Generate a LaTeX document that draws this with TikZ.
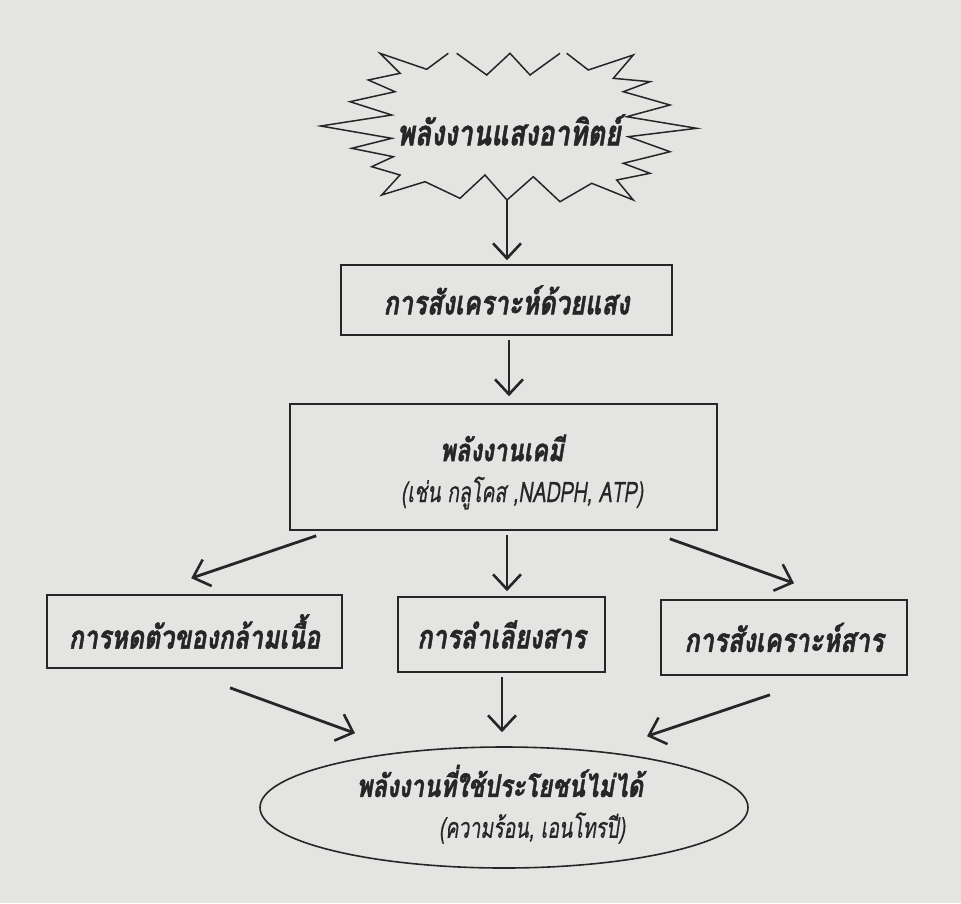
\documentclass[tikz,border=0pt]{standalone}
\usepackage{fontspec}
\usepackage{graphicx}
\newfontfamily\thai[Script=Thai,FakeBold=0.7]{Loma}
\newfontfamily\thaiB[Script=Thai,FakeBold=1.6]{Loma}
\usetikzlibrary{arrows.meta,calc,shapes.geometric}
\definecolor{paper}{HTML}{E4E4E2}
\definecolor{ink}{HTML}{262626}
\newcommand{\bt}[1]{\thaiB\bfseries\itshape\fontsize{#1}{#1}\selectfont}
\newcommand{\rt}[1]{\thai\itshape\fontsize{#1}{#1}\selectfont}
\newcommand{\tall}[1]{\scalebox{1}[1.3]{#1}}
\newcommand{\taller}[1]{\scalebox{1}[1.45]{#1}}
\begin{document}
\begin{tikzpicture}[x=1pt,y=-1pt,
  boxnode/.style={draw=ink,line width=1.6pt,rectangle,inner sep=0pt,align=center,text=ink},
  lbl/.style={text=ink,inner sep=0pt},
  arr/.style={draw=ink,line width=2.8pt,-{Straight Barb[length=15pt,width=28pt,line width=2.6pt]}},
  burst/.style={draw=ink,line width=1.5pt,line join=miter}
]
\useasboundingbox (0,0) rectangle (961,903);
\fill[paper] (0,0) rectangle (961,903);
% starburst
\draw[burst] (456.7,53.3) -- (486.7,75) -- (510,53.3) -- (530,75) -- (560,53.3);
\draw[burst] (566.7,53.3) -- (588.3,70) -- (633.3,55) -- (613.3,78.3) -- (650,81.7)
  -- (623.3,91.7) -- (670,105) -- (626.7,116.7) -- (696.7,128.3) -- (628.3,136.7)
  -- (670,151.7) -- (623.3,163.3) -- (650,173.3) -- (616.7,180) -- (633.3,200)
  -- (591.7,183.3) -- (560,201.7) -- (533.3,176.7) -- (507,200) -- (485,175)
  -- (460,198.3) -- (425,181.7) -- (381.7,195) -- (400,175) -- (371.7,166.7)
  -- (393.3,156.7) -- (351.7,148.3) -- (391.7,138.3) -- (320.7,126) -- (391.7,115)
  -- (350,101.7) -- (395,91.7) -- (368.3,80) -- (400,73.3) -- (380,53.3)
  -- (426.7,69.3) -- (448.3,53.3);
\coordinate (sunb) at (507,200);
\node[lbl,font=\bt{27}] (sun) at (509,130) {\tall{พลังงานแสงอาทิตย์}};
% boxes
\node[boxnode,minimum width=331pt,minimum height=70pt,font=\bt{25.5}] (b1) at (506.5,300) {\tall{การสังเคราะห์ด้วยแสง}};
\node[boxnode,minimum width=427pt,minimum height=126pt] (b2) at (503.5,467) {};
\node[lbl,font=\bt{24}] (b2a) at (502,448) {\tall{พลังงานเคมี}};
\node[lbl,font=\rt{19.5}] (b2b) at (522,493) {\taller{(เช่น กลูโคส ,NADPH, ATP)}};
\node[boxnode,minimum width=295pt,minimum height=73pt,font=\bt{25}] (bL) at (194.5,631.5) {\tall{การหดตัวของกล้ามเนื้อ}};
\node[boxnode,minimum width=207pt,minimum height=75pt,font=\bt{25.5}] (bM) at (501.5,634.5) {\tall{การลำเลียงสาร}};
\node[boxnode,minimum width=246pt,minimum height=75pt,font=\bt{25.5}] (bR) at (784,637.5) {\tall{การสังเคราะห์สาร}};
\node[draw=ink,line width=1.6pt,ellipse,minimum width=488pt,minimum height=121pt,inner sep=0pt] (ell) at (504,807.5) {};
\node[lbl,font=\bt{24}] (ella) at (500,781) {\tall{พลังงานที่ใช้ประโยชน์ไม่ได้}};
\node[lbl,font=\rt{19.5}] (ellb) at (532,828) {\taller{(ความร้อน, เอนโทรปี)}};
% connectors
\draw[arr] (sunb) -- ($(b1.north)+(0.5,-4)$);
\draw[arr] ($(b1.south)+(2.5,4)$) -- ($(b2.north)+(5.5,-7)$);
\draw[arr] ($(b2.south west)+(27,5)$) -- ($(bL.north west)+(145,-16)$);
\draw[arr] ($(b2.south)+(3.5,4)$) -- ($(bM.north)+(5.5,-5)$);
\draw[arr] ($(b2.south east)+(-48,8)$) -- ($(bR.north)+(10,-16)$);
\draw[arr] ($(bL.south)+(35.5,19)$) -- ($(ell.north)+(-149,-13)$);
\draw[arr] ($(bM.south)+(0.5,4)$) -- ($(ell.north)+(-2,-14)$);
\draw[arr] ($(bR.south)+(-14,19)$) -- ($(ell.north)+(143,-10)$);
\end{tikzpicture}
\end{document}
